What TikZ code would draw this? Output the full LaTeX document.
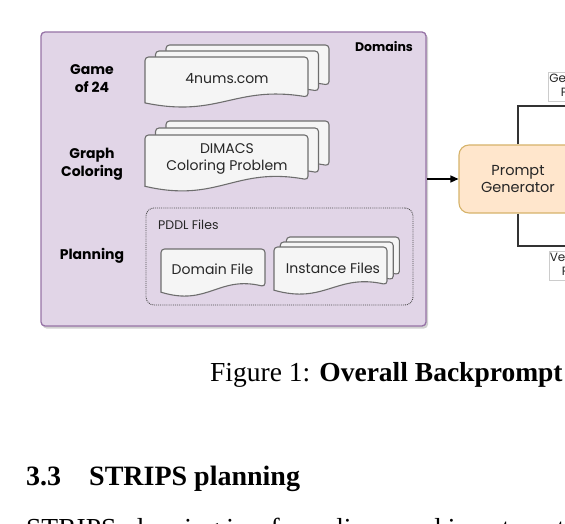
\documentclass[tikz,border=0pt]{standalone}
\usepackage{fontspec}
\setmainfont{Liberation Serif}
\newfontfamily\pop{Poppins}
\usetikzlibrary{arrows.meta}
\definecolor{domfill}{HTML}{E1D5E7}
\definecolor{domdraw}{HTML}{9673A6}
\definecolor{docfill}{HTML}{F5F5F5}
\definecolor{docdraw}{HTML}{6E6E6E}
\definecolor{pgfill}{HTML}{FFE6CC}
\definecolor{pgdraw}{HTML}{D6B36A}
\definecolor{conncol}{HTML}{333333}
% #1 x left, #2 y top, #3 width, #4 height
\newcommand\docshape[4]{%
  \filldraw[docst, rounded corners=3.5]
    (#1,#2+0.9*#4) -- (#1,#2) -- (#1+#3,#2) -- (#1+#3,#2+0.785*#4)
    [sharp corners] .. controls (#1+0.55*#3,#2+0.55*#4) and (#1+0.45*#3,#2+1.2*#4) .. (#1,#2+0.9*#4) -- cycle;}
\newcommand\docstack[6]{% x, y, w, h, dx, dy
  \docshape{#1+2*#5}{#2+2*#6}{#3}{#4}
  \docshape{#1+#5}{#2+#6}{#3}{#4}
  \docshape{#1}{#2}{#3}{#4}}
\begin{document}
\begin{tikzpicture}[x=1pt,y=-1pt,
  docst/.style={fill=docfill, draw=docdraw, line width=1.1},
  dombox/.style={draw=domdraw, fill=domfill, line width=1.3, rounded corners=4, inner sep=0},
  domlabel/.style={font=\pop\bfseries\fontsize{14}{18}\selectfont, align=center, inner sep=0},
  domtitle/.style={font=\pop\bfseries\fontsize{12.5}{14}\selectfont, inner sep=0},
  doctext/.style={font=\pop\fontsize{14}{17}\selectfont, text=black!85, align=center, inner sep=0},
  smalltext/.style={font=\pop\fontsize{12.5}{14}\selectfont, text=black!85, inner sep=0},
  pgbox/.style={draw=pgdraw, fill=pgfill, line width=1.1, rounded corners=10, minimum width=118, minimum height=68, align=center, inner sep=0, font=\pop\fontsize{14.5}{17}\selectfont, text=black!85},
  edgelab/.style={draw=black!20, fill=white, line width=0.6, inner xsep=1, inner ysep=1.2, align=center, font=\pop\fontsize{12}{14}\selectfont, text=black!85},
  conn/.style={draw=conncol, line width=1.6},
  arr/.style={draw=black, line width=1.3, -{Triangle[length=8,width=7]}},
  serif/.style={inner sep=0, anchor=base west}
]
\useasboundingbox (0,0) rectangle (565,524);
\clip (0,0) rectangle (565,524);

% Domains container (with faint shadow)
\fill[black!18, rounded corners=4] (42.5,34) rectangle (428,328.5);
\node[dombox, minimum width=385, minimum height=294] (domains) at (233.5,179) {};
\node[domtitle] (domtitle) at (384,47) {Domains};

% row labels
\node[domlabel] (game) at (92,79) {Game\\of 24};
\node[domlabel] (graph) at (92,164.5) {Graph\\Coloring};
\node[domlabel] (planning) at (92,256) {Planning};

% document stacks
\docstack{145}{57}{163}{51}{10.5}{-6}
\node[doctext] (nums) at (227,79) {4nums.com};
\docstack{145}{135}{163}{57}{10.5}{-7}
\node[doctext] (dimacs) at (227,158.5) {DIMACS\\Coloring Problem};

% PDDL group
\node[draw=black!70, densely dotted, line width=0.9, rounded corners=8, minimum width=267, minimum height=97, inner sep=0] (pddl) at (279.5,256.5) {};
\node[smalltext, anchor=west] (pddltitle) at (158,225) {PDDL Files};
\docshape{161}{249}{104}{48}
\node[doctext] (domfile) at (212.5,269) {Domain File};
\docstack{274}{247}{113}{48}{6.2}{-5}
\node[doctext] (instfile) at (333,268) {Instance Files};

% Prompt generator
\node[pgbox] (pg) at (518,179) {Prompt\\Generator};
\draw[arr] (domains.east) -- (pg.west);

\coordinate (genend) at (600,106);
\coordinate (verend) at (600,246);
\draw[conn] (pg.north) |- (genend);
\draw[conn] (pg.south) |- (verend);
\node[edgelab, anchor=north west] (genlab) at (548,72) {Generation\\Prompt};
\node[edgelab, anchor=north west] (verlab) at (548.5,251) {Verification\\Prompt};

% caption and text
\node[serif, font=\fontsize{27.5}{32}\selectfont] (caption) at (210,381) {Figure 1: \textbf{Overall Backprompt}};
\node[serif, font=\bfseries\fontsize{28}{33}\selectfont] (section) at (26,485) {3.3\hspace{1em}STRIPS planning};
\node[serif, font=\fontsize{27.5}{32}\selectfont] (body) at (26,537) {STRIPS planning is a formalism used in automated planning};
\end{tikzpicture}
\end{document}
